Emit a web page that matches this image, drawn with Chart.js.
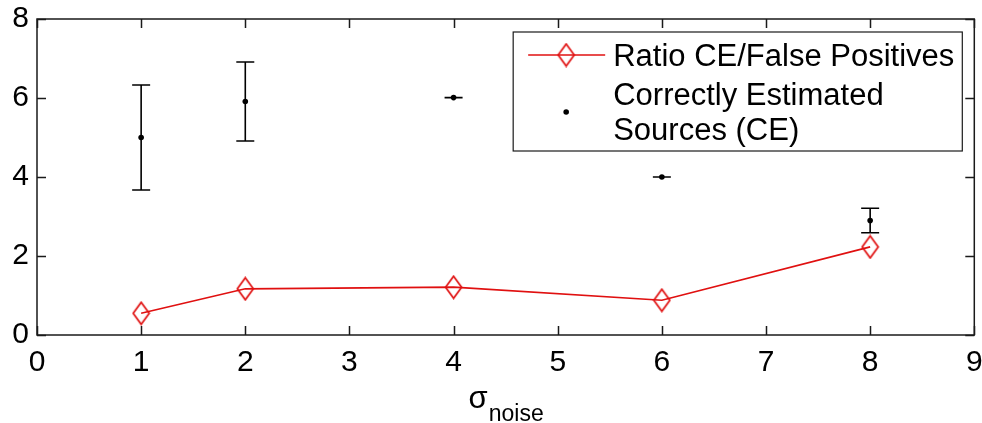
<!DOCTYPE html>
<html><head><meta charset="utf-8">
<script src="https://cdn.jsdelivr.net/npm/chart.js@4"></script>
<style>html,body{margin:0;padding:0;background:#fff;overflow:hidden}#wrap{width:986px;height:423px;position:relative}canvas{display:block}</style>
</head><body><div id="wrap"><canvas id="c"></canvas></div>
<script>
// ---- data ----
const noiseLevels = [1, 2, 4, 6, 8];
const ratioValues = [0.55, 1.17, 1.21, 0.88, 2.23];
const ceMeans = [5.0, 5.91, 6.01, 4.0, 2.9];
const ceErrors = [1.33, 1.0, 0, 0, 0.31];
const xTicks = [0, 1, 2, 3, 4, 5, 6, 7, 8, 9];
const yTicks = [0, 2, 4, 6, 8];
const seriesLabels = ['Ratio CE/False Positives', 'Correctly Estimated Sources (CE)'];
const legendLines = [['Ratio CE/False Positives'], ['Correctly Estimated', 'Sources (CE)']];
const axisTitle = ['σ', 'noise'];

const FONT = '"Liberation Sans", Arial, Helvetica, sans-serif';
const RED = '#e01010';
const FRAME = '#1a1a1a';

function diamond() {
  const c = document.createElement('canvas');
  c.width = 19; c.height = 25;
  const g = c.getContext('2d');
  g.strokeStyle = RED; g.lineWidth = 1.7;
  g.beginPath();
  g.moveTo(9.5, 1.5); g.lineTo(17.5, 12.5); g.lineTo(9.5, 23.5); g.lineTo(1.5, 12.5); g.closePath();
  g.stroke();
  return c;
}
const diamondImg = diamond();

const framePlugin = {
  id: 'frame',
  beforeDatasetsDraw(chart) {
    const ctx = chart.ctx, xs = chart.scales.x, ys = chart.scales.y;
    ctx.save();
    ctx.strokeStyle = '#000'; ctx.lineWidth = 1.6;
    const cap = 9;
    noiseLevels.forEach((v, i) => {
      if (ceErrors[i] === undefined) return;
      const px = xs.getPixelForValue(v);
      const hi = ys.getPixelForValue(ceMeans[i] + ceErrors[i]);
      const lo = ys.getPixelForValue(ceMeans[i] - ceErrors[i]);
      ctx.beginPath();
      ctx.moveTo(px, hi); ctx.lineTo(px, lo);
      ctx.moveTo(px - cap, hi); ctx.lineTo(px + cap, hi);
      ctx.moveTo(px - cap, lo); ctx.lineTo(px + cap, lo);
      ctx.stroke();
    });
    ctx.restore();
  },
  afterDraw(chart) {
    const ctx = chart.ctx, a = chart.chartArea, xs = chart.scales.x, ys = chart.scales.y;
    ctx.save();
    // frame
    ctx.strokeStyle = FRAME; ctx.lineWidth = 1.5;
    ctx.strokeRect(a.left, a.top, a.right - a.left, a.bottom - a.top);
    const tl = 9;
    ctx.beginPath();
    xTicks.forEach(v => {
      const px = Math.round(xs.getPixelForValue(v)) + 0.5;
      ctx.moveTo(px, a.bottom); ctx.lineTo(px, a.bottom - tl);
      ctx.moveTo(px, a.top); ctx.lineTo(px, a.top + tl);
    });
    yTicks.forEach(v => {
      const py = Math.round(ys.getPixelForValue(v)) + 0.5;
      ctx.moveTo(a.left, py); ctx.lineTo(a.left + tl, py);
      ctx.moveTo(a.right, py); ctx.lineTo(a.right - tl, py);
    });
    ctx.stroke();

    // legend
    const lf = 31;
    ctx.font = lf + 'px ' + FONT;
    let maxW = 0;
    legendLines.forEach(ls => ls.forEach(t => { maxW = Math.max(maxW, ctx.measureText(t).width); }));
    const boxRight = a.right - 12;
    const boxLeft = boxRight - (maxW + 108);
    const boxTop = a.top + 13;
    const boxH = 119;
    ctx.fillStyle = '#fff';
    ctx.fillRect(boxLeft, boxTop, boxRight - boxLeft, boxH);
    ctx.strokeStyle = FRAME; ctx.lineWidth = 1.2;
    ctx.strokeRect(boxLeft, boxTop, boxRight - boxLeft, boxH);
    const textX = boxLeft + 100;
    // row 1: line + diamond
    ctx.strokeStyle = RED; ctx.lineWidth = 1.7;
    ctx.beginPath();
    ctx.moveTo(boxLeft + 15, boxTop + 23); ctx.lineTo(boxLeft + 92, boxTop + 23);
    ctx.stroke();
    ctx.drawImage(diamondImg, boxLeft + 53 - diamondImg.width / 2, boxTop + 23 - diamondImg.height / 2);
    ctx.fillStyle = '#000';
    ctx.textAlign = 'left'; ctx.textBaseline = 'alphabetic';
    ctx.fillText(legendLines[0][0], textX, boxTop + 34);
    // row 2: dot
    ctx.beginPath();
    ctx.arc(boxLeft + 53, boxTop + 80, 2.8, 0, Math.PI * 2);
    ctx.fill();
    ctx.fillText(legendLines[1][0], textX, boxTop + 73);
    ctx.fillText(legendLines[1][1], textX, boxTop + 108);

    // x axis title with subscript
    const cx = (a.left + a.right) / 2;
    ctx.font = '31px ' + FONT;
    const w1 = ctx.measureText(axisTitle[0]).width;
    ctx.font = '23px ' + FONT;
    const w2 = ctx.measureText(axisTitle[1]).width;
    const sx = cx - (w1 + w2) / 2;
    ctx.font = '31px ' + FONT;
    ctx.fillText(axisTitle[0], sx, a.bottom + 73);
    ctx.font = '23px ' + FONT;
    ctx.fillText(axisTitle[1], sx + w1 + 1, a.bottom + 86);
    ctx.restore();
  }
};

new Chart(document.getElementById('c'), {
  type: 'scatter',
  data: {
    datasets: [
      {
        label: seriesLabels[0],
        data: noiseLevels.map((x, i) => ({ x: x, y: ratioValues[i] })),
        showLine: true,
        borderColor: RED,
        borderWidth: 1.7,
        pointStyle: diamondImg,
        pointRadius: 10,
        tension: 0
      },
      {
        label: seriesLabels[1],
        data: noiseLevels.map((x, i) => ({ x: x, y: ceMeans[i] })),
        showLine: false,
        pointStyle: 'circle',
        pointRadius: 2.8,
        backgroundColor: '#000',
        borderColor: '#000',
        borderWidth: 0
      }
    ]
  },
  options: {
    responsive: true,
    maintainAspectRatio: false,
    animation: false,
    devicePixelRatio: 1,
    layout: { padding: { top: 19, right: 9, left: 0, bottom: 0 } },
    plugins: { legend: { display: false }, tooltip: { enabled: false } },
    scales: {
      x: {
        type: 'linear', min: 0, max: 9,
        afterBuildTicks: s => { s.ticks = xTicks.map(v => ({ value: v })); },
        afterFit: s => { s.height = 88; s.paddingLeft = 0; s.paddingRight = 0; },
        ticks: { color: '#000', font: { family: FONT, size: 30 }, padding: 10, maxRotation: 0 },
        grid: { display: false, drawTicks: false },
        border: { display: false }
      },
      y: {
        min: 0, max: 8,
        afterBuildTicks: s => { s.ticks = yTicks.map(v => ({ value: v })); },
        afterFit: s => { s.width = 37; s.paddingTop = 0; s.paddingBottom = 0; },
        ticks: { color: '#000', font: { family: FONT, size: 30 }, padding: 8 },
        grid: { display: false, drawTicks: false },
        border: { display: false }
      }
    }
  },
  plugins: [framePlugin]
});
</script>
</body></html>
